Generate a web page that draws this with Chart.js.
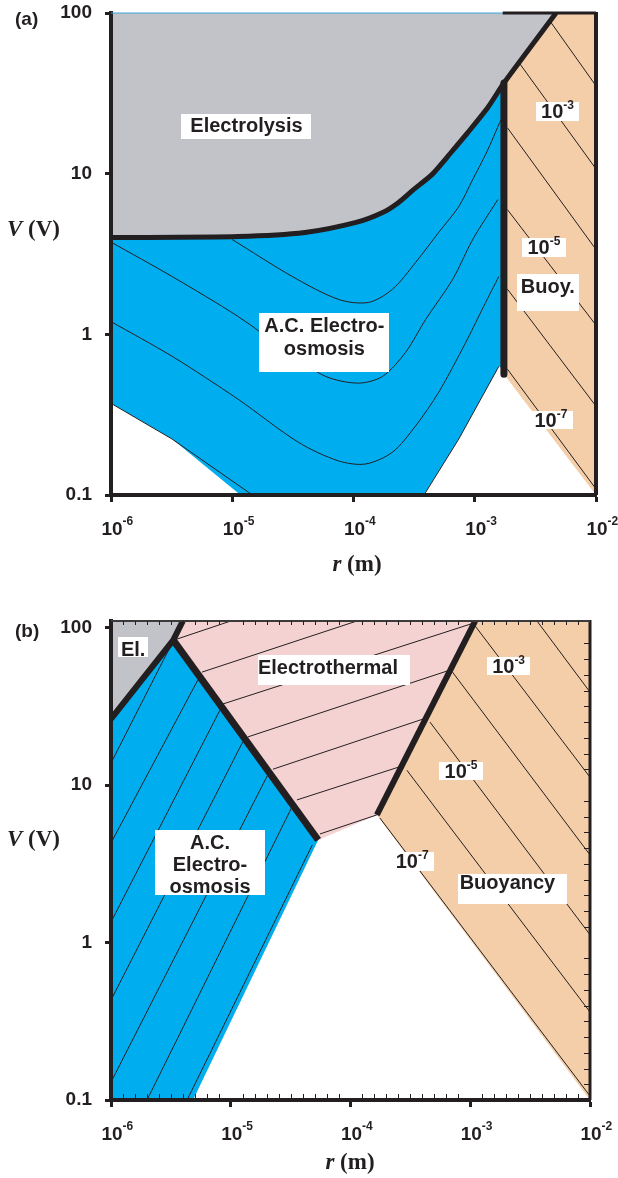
<!DOCTYPE html>
<html lang="en">
  <head>
    <meta charset="UTF-8" />
    <title>Regime maps, V against r</title>
    <style>
      body { margin: 0; background: #fff; }
      .panel { position: absolute; left: 0; width: 618px; height: 589px; }
      #panelA { top: 0; }
      #panelB { top: 589px; }
    </style>
  </head>
  <body>
    <div class="panel" id="panelA"><canvas id="chartA" width="618" height="589"></canvas></div>
    <div class="panel" id="panelB"><canvas id="chartB" width="618" height="589"></canvas></div>
  </body>
  <script src="https://cdn.jsdelivr.net/npm/chart.js"></script>
  <script>
    var ink = "#231f20";
    var gray = "#c1c3c9";
    var blue = "#00aeef";
    var peach = "#f4cea8";
    var pink = "#f5d2d2";
    var sans = "'Liberation Sans', Arial, Helvetica, sans-serif";
    var serif = "'Liberation Serif', 'Times New Roman', serif";

    Chart.defaults.font.family = sans;
    Chart.defaults.color = ink;

    // axes
    var rTicks = [1e-6, 1e-5, 1e-4, 1e-3, 1e-2];
    var rTickExp = ["-6", "-5", "-4", "-3", "-2"];
    var vTicks = [0.1, 1, 10, 100];
    var vTickLabels = ["0.1", "1", "10", "100"];

    // ---- panel (a) ----
    // electrolysis boundary
    var aElecR = [1e-6, 1.12e-5, 3.98e-5, 1.05e-4, 1.74e-4, 2.34e-4, 3.09e-4, 3.98e-4, 4.57e-4, 6.3e-4, 8.75e-4, 1.29e-3, 1.74e-3, 4.68e-3];
    var aElecV = [4.0, 4.06, 4.3, 4.97, 5.73, 6.6, 7.9, 9.2, 10.1, 13.4, 18.0, 26, 36.7, 100];
    // vertical wall between electro-osmosis and buoyancy
    var aWallR = [1.74e-3, 1.74e-3];
    var aWallV = [36.7, 0.565];
    // lower edge of the A.C. electro-osmosis region (continues the electrolysis line)
    var aAcEdgeR = [1.74e-3, 1.58e-3, 7.38e-4, 3.8e-4, 1.17e-5, 3.19e-6, 1e-6];
    var aAcEdgeV = [0.6, 0.632, 0.223, 0.1, 0.1, 0.223, 0.372];
    // buoyancy region
    var aBuoyR = [4.68e-3, 1e-2, 1e-2, 1.74e-3, 1.74e-3];
    var aBuoyV = [100, 100, 0.1, 0.565, 36.7];
    // velocity contours in the electro-osmosis region
    var aIso1R = [1.0e-5, 3.13e-5, 7.52e-5, 1.33e-4, 2.1e-4, 3.25e-4, 5.04e-4, 7.38e-4, 9.61e-4, 1.26e-3, 1.64e-3];
    var aIso1V = [3.89, 2.29, 1.65, 1.58, 1.91, 2.8, 4.31, 6.24, 9.18, 13.7, 21.6];
    var aIso2R = [1e-6, 3.19e-6, 1.12e-5, 2.9e-5, 5.87e-5, 1.1e-4, 1.74e-4, 2.69e-4, 3.94e-4, 6.58e-4, 9.61e-4, 1.55e-3];
    var aIso2V = [3.75, 2.29, 1.29, 0.773, 0.548, 0.497, 0.548, 0.773, 1.24, 2.2, 3.89, 6.9];
    var aIso3R = [1e-6, 3.19e-6, 1.12e-5, 3.51e-5, 7.52e-5, 1.26e-4, 2.1e-4, 3.25e-4, 5.04e-4, 8.43e-4, 1.23e-3, 1.58e-3];
    var aIso3V = [1.2, 0.73, 0.394, 0.213, 0.163, 0.156, 0.185, 0.269, 0.436, 0.891, 1.58, 2.29];
    var aIso4LeftR = [1e-6, 3.19e-6, 1.36e-5, 1.47e-5];
    var aIso4LeftV = [0.372, 0.223, 0.104, 0.1];
    var aIso4RightR = [3.8e-4, 3.94e-4, 7.38e-4, 1.58e-3];
    var aIso4RightV = [0.1, 0.104, 0.223, 0.632];
    // buoyancy contours: start point, end at r = 1e-2
    var aBuoyIsoR0 = [4.17e-3, 2.29e-3, 1.86e-3, 1.86e-3, 1.86e-3, 1.86e-3];
    var aBuoyIsoV0 = [89.1, 49.7, 19.3, 5.97, 1.91, 0.607];
    var aBuoyIsoV1 = [35.2, 10.7, 3.37, 1.14, 0.357, 0.109];

    // ---- panel (b) ----
    var bElecR = [1e-6, 3.31e-6, 3.98e-6];
    var bElecV = [26.3, 83.2, 110];
    var bAcEtR = [3.31e-6, 5.37e-5];
    var bAcEtV = [83.2, 4.48];
    var bEtBuoyR = [1.66e-4, 1.1e-3];
    var bEtBuoyV = [6.46, 110];
    var bAcR = [1e-6, 3.31e-6, 5.37e-5, 4.84e-6, 1e-6];
    var bAcV = [26.3, 83.2, 4.48, 0.1, 0.1];
    var bEtR = [3.31e-6, 3.98e-6, 1.1e-3, 1.66e-4, 5.37e-5];
    var bEtV = [83.2, 110, 110, 6.46, 4.48];
    var bBuoyR = [1.1e-3, 1e-2, 1e-2, 1.66e-4];
    var bBuoyV = [110, 110, 0.1, 6.46];
    // contours, start and end points
    var bAcIsoR0 = [1e-6, 1e-6, 1e-6, 1e-6, 1e-6, 2.0e-6, 4.32e-6];
    var bAcIsoV0 = [13.8, 4.29, 1.35, 0.431, 0.13, 0.1, 0.1];
    var bAcIsoR1 = [3.24e-6, 5.53e-6, 8.13e-6, 1.26e-5, 2.05e-5, 3.24e-5, 4.79e-5];
    var bAcIsoV1 = [79.8, 49.2, 29.9, 18.8, 11.7, 7.24, 4.16];
    var bEtIsoR0 = [3.56e-6, 5.75e-6, 8.61e-6, 1.39e-5, 2.25e-5, 3.57e-5, 5.56e-5];
    var bEtIsoV0 = [84.5, 52.1, 32.7, 20.2, 12.6, 8.04, 4.89];
    var bEtIsoR1 = [1.0e-5, 1.13e-4, 1.12e-3, 6.78e-4, 4.27e-4, 2.69e-4, 1.66e-4];
    var bEtIsoV1 = [110, 110, 108, 53.7, 26.6, 13.2, 6.46];
    var bBuoyIsoR0 = [3.61e-3, 1.07e-3, 6.9e-4, 4.61e-4, 2.96e-4, 1.76e-4];
    var bBuoyIsoV0 = [110, 105, 53.7, 25.1, 12.4, 6.17];
    var bBuoyIsoV1 = [38.9, 11.2, 3.6, 1.12, 0.362, 0.106];

    function pts(rs, vs) {
      return rs.map(function (r, i) { return { x: r, y: vs[i] }; });
    }

    function line(data, width, tension) {
      return {
        data: data,
        showLine: true,
        borderColor: ink,
        borderWidth: width,
        pointRadius: 0,
        tension: tension || 0,
        fill: false,
        borderJoinStyle: "round",
      };
    }

    function segments(r0, v0, r1, v1) {
      return r0.map(function (r, i) {
        var rEnd = Array.isArray(r1) ? r1[i] : r1;
        return line([{ x: r, y: v0[i] }, { x: rEnd, y: v1[i] }], 1);
      });
    }

    function axes(yMax, xHeight) {
      var tickStyle = { drawOnChartArea: false, tickLength: 6, tickWidth: 3, tickColor: ink, z: 1 };
      var frame = { color: ink, width: 4, z: 1 };
      return {
        x: {
          type: "logarithmic",
          min: 1e-6,
          max: 1e-2,
          afterBuildTicks: function (s) { s.ticks = rTicks.map(function (v) { return { value: v }; }); },
          afterFit: function (s) {
            s.height = xHeight;
            s.paddingLeft = 0;
            s.paddingRight = 0;
          },
          ticks: { display: false },
          grid: Object.assign({}, tickStyle, { tickLength: 7 }),
          border: frame,
        },
        y: {
          type: "logarithmic",
          min: 0.1,
          max: yMax,
          afterBuildTicks: function (s) { s.ticks = vTicks.map(function (v) { return { value: v }; }); },
          afterFit: function (s) {
            s.width = 111;
            s.paddingTop = 0;
            s.paddingBottom = 0;
          },
          ticks: {
            autoSkip: false,
            padding: 13,
            font: { size: 19, weight: "bold" },
            callback: function (v, i) { return vTickLabels[i]; },
          },
          grid: tickStyle,
          border: frame,
        },
      };
    }

    function twoFont(ctx, a, b, fontA, fontB, x, y, center) {
      ctx.font = fontA;
      var w1 = ctx.measureText(a).width;
      ctx.font = fontB;
      var w2 = ctx.measureText(b).width;
      var x0 = center ? x - (w1 + w2) / 2 : x;
      ctx.font = fontA;
      ctx.fillText(a, x0, y);
      ctx.font = fontB;
      ctx.fillText(b, x0 + w1, y);
    }

    function panelPlugin(cfg) {
      return {
        id: "regimes",
        beforeDatasetsDraw: function (chart) {
          var ctx = chart.ctx, a = chart.chartArea, sx = chart.scales.x, sy = chart.scales.y;
          ctx.save();
          ctx.beginPath();
          ctx.rect(a.left, a.top, a.right - a.left, a.bottom - a.top);
          ctx.clip();
          cfg.regions.forEach(function (reg) {
            ctx.beginPath();
            reg.pts.forEach(function (p, i) {
              var px = sx.getPixelForValue(p.x), py = sy.getPixelForValue(p.y);
              if (i === 0) ctx.moveTo(px, py);
              else ctx.lineTo(px, py);
            });
            ctx.closePath();
            ctx.fillStyle = reg.color;
            ctx.fill();
          });
          ctx.restore();
        },
        afterDatasetsDraw: function (chart) {
          var ctx = chart.ctx, sx = chart.scales.x, sy = chart.scales.y;
          ctx.save();
          cfg.labels.forEach(function (lab) {
            var cx = sx.getPixelForValue(lab.r), cy = sy.getPixelForValue(lab.v);
            ctx.fillStyle = "#fff";
            ctx.fillRect(Math.round(cx - lab.w / 2), Math.round(cy - lab.h / 2), lab.w, lab.h);
            ctx.fillStyle = ink;
            var tx = cx + (lab.dx || 0), ty = cy + (lab.dy || 0);
            if (lab.exp) {
              ctx.textAlign = "left";
              ctx.textBaseline = "alphabetic";
              ctx.font = "bold 20px " + sans;
              var w1 = ctx.measureText("10").width;
              ctx.font = "bold 12px " + sans;
              var w2 = ctx.measureText(lab.exp).width;
              var x0 = tx - (w1 + w2) / 2;
              ctx.font = "bold 20px " + sans;
              ctx.fillText("10", x0, ty + 7);
              ctx.font = "bold 12px " + sans;
              ctx.fillText(lab.exp, x0 + w1, ty - 2);
            } else {
              ctx.font = "bold 20px " + sans;
              ctx.textAlign = "center";
              ctx.textBaseline = "middle";
              var n = lab.lines.length;
              lab.lines.forEach(function (s, i) {
                ctx.fillText(s, tx, ty + (i - (n - 1) / 2) * (lab.lead || 23));
              });
            }
          });
          ctx.restore();
        },
        afterDraw: function (chart) {
          var ctx = chart.ctx, a = chart.chartArea, sx = chart.scales.x, sy = chart.scales.y;
          ctx.save();
          // right and top edges of the frame
          ctx.strokeStyle = ink;
          ctx.lineWidth = cfg.rightWidth;
          ctx.beginPath();
          ctx.moveTo(a.right, a.top - 1);
          ctx.lineTo(a.right, a.bottom);
          ctx.stroke();
          cfg.top.forEach(function (seg) {
            ctx.strokeStyle = seg.color;
            ctx.lineWidth = seg.width;
            ctx.beginPath();
            ctx.moveTo(sx.getPixelForValue(seg.r0), a.top);
            ctx.lineTo(sx.getPixelForValue(seg.r1), a.top);
            ctx.stroke();
          });
          // minor ticks every tenth of a decade
          if (cfg.minor) {
            ctx.strokeStyle = ink;
            ctx.lineWidth = 1;
            ctx.beginPath();
            for (var k = -59; k < -20; k++) {
              if (k % 10 === 0) continue;
              var px = Math.round(sx.getPixelForValue(Math.pow(10, k / 10))) + 0.5;
              ctx.moveTo(px, a.bottom - 2);
              ctx.lineTo(px, a.bottom - 6);
              ctx.moveTo(px, a.top);
              ctx.lineTo(px, a.top + 4);
            }
            var kMax = Math.floor(Math.log10(sy.max) * 10);
            for (var j = -9; j <= kMax; j++) {
              if (j % 10 === 0) continue;
              var py = Math.round(sy.getPixelForValue(Math.pow(10, j / 10))) + 0.5;
              ctx.moveTo(a.right - 1, py);
              ctx.lineTo(a.right - 6, py);
            }
            ctx.stroke();
          }
          // r tick labels with exponents
          ctx.fillStyle = ink;
          ctx.textBaseline = "alphabetic";
          ctx.textAlign = "left";
          rTicks.forEach(function (v, i) {
            var px = sx.getPixelForValue(v);
            ctx.font = "bold 19px " + sans;
            var w = ctx.measureText("10").width;
            ctx.fillText("10", px - w / 2 + 1, a.bottom + 40);
            ctx.font = "bold 12px " + sans;
            ctx.fillText(rTickExp[i], px + w / 2 + 1, a.bottom + 30);
          });
          // axis titles
          ctx.textBaseline = "middle";
          twoFont(ctx, "V", " (V)", "italic bold 23px " + serif, "bold 23px " + serif, 7, cfg.vTitleY, false);
          twoFont(ctx, "r", " (m)", "italic bold 23px " + serif, "bold 23px " + serif, cfg.rTitleX, cfg.rTitleY, true);
          // panel letter
          ctx.font = "bold 19px " + sans;
          ctx.fillText(cfg.letter, 15, cfg.letterY);
          ctx.restore();
        },
      };
    }

    // ---- chart (a) ----
    var aAcFill = pts(aElecR, aElecV).filter(function (p) { return p.x <= aWallR[0]; }).concat(pts(aAcEdgeR, aAcEdgeV));
    var aDatasets = [
      line(pts(aWallR, aWallV), 7),
      line(pts(aElecR, aElecV), 5, 0.25),
      line(pts(aIso1R, aIso1V), 1, 0.3),
      line(pts(aIso2R, aIso2V), 1, 0.3),
      line(pts(aIso3R, aIso3V), 1, 0.3),
      line(pts(aIso4LeftR, aIso4LeftV), 1),
      line(pts(aIso4RightR, aIso4RightV), 1),
    ].concat(segments(aBuoyIsoR0, aBuoyIsoV0, 1e-2, aBuoyIsoV1));

    new Chart(document.getElementById("chartA"), {
      type: "scatter",
      data: { datasets: aDatasets },
      options: {
        responsive: false,
        animation: false,
        events: [],
        layout: { padding: { left: 0, top: 13, right: 22, bottom: 0 } },
        scales: axes(100, 94),
        plugins: { legend: { display: false }, tooltip: { enabled: false } },
      },
      plugins: [
        panelPlugin({
          letter: "(a)",
          letterY: 20,
          vTitleY: 230,
          rTitleX: 357,
          rTitleY: 565,
          rightWidth: 4,
          minor: false,
          top: [
            { r0: 1e-6, r1: 1.7e-3, color: "#3aa6dc", width: 1 },
            { r0: 1.7e-3, r1: 1e-2, color: ink, width: 3 },
          ],
          regions: [
            { color: gray, pts: pts(aElecR, aElecV).concat([{ x: 1e-6, y: 100 }]) },
            { color: blue, pts: aAcFill },
            { color: peach, pts: pts(aBuoyR, aBuoyV) },
          ],
          labels: [
            { r: 1.31e-5, v: 19.7, w: 130, h: 25, lines: ["Electrolysis"] },
            { r: 5.75e-5, v: 0.885, w: 130, h: 59, dy: -5, lines: ["A.C. Electro-", "osmosis"] },
            { r: 4.01e-3, v: 1.81, w: 62, h: 37, dy: -5, lines: ["Buoy."] },
            { r: 4.81e-3, v: 24.4, w: 43, h: 19, exp: "-3" },
            { r: 3.72e-3, v: 3.49, w: 44, h: 19, exp: "-5" },
            { r: 4.25e-3, v: 0.292, w: 44, h: 18, exp: "-7" },
          ],
        }),
      ],
    });

    // ---- chart (b) ----
    var bDatasets = [
      line(pts(bElecR, bElecV), 6),
      line(pts(bAcEtR, bAcEtV), 7),
      line(pts(bEtBuoyR, bEtBuoyV), 6),
    ]
      .concat(segments(bAcIsoR0, bAcIsoV0, bAcIsoR1, bAcIsoV1))
      .concat(segments(bEtIsoR0, bEtIsoV0, bEtIsoR1, bEtIsoV1))
      .concat(segments(bBuoyIsoR0, bBuoyIsoV0, 1e-2, bBuoyIsoV1));

    new Chart(document.getElementById("chartB"), {
      type: "scatter",
      data: { datasets: bDatasets },
      options: {
        responsive: false,
        animation: false,
        events: [],
        layout: { padding: { left: 0, top: 32, right: 28, bottom: 0 } },
        scales: axes(110, 78),
        plugins: { legend: { display: false }, tooltip: { enabled: false } },
      },
      plugins: [
        panelPlugin({
          letter: "(b)",
          letterY: 43,
          vTitleY: 251,
          rTitleX: 350,
          rTitleY: 574,
          rightWidth: 3,
          minor: true,
          top: [{ r0: 1e-6, r1: 1e-2, color: "#3d3a3b", width: 2 }],
          regions: [
            { color: gray, pts: pts(bElecR, bElecV).concat([{ x: 1e-6, y: 110 }]) },
            { color: blue, pts: pts(bAcR, bAcV) },
            { color: pink, pts: pts(bEtR, bEtV) },
            { color: peach, pts: pts(bBuoyR, bBuoyV) },
          ],
          labels: [
            { r: 1.53e-6, v: 75.2, w: 30, h: 20, dy: 3, lines: ["El."] },
            { r: 7.28e-5, v: 53.7, w: 152, h: 30, dx: -6, dy: -2, lines: ["Electrothermal"] },
            { r: 6.71e-6, v: 3.22, w: 110, h: 65, dy: 3, lead: 22, lines: ["A.C.", "Electro-", "osmosis"] },
            { r: 2.09e-3, v: 57.0, w: 43, h: 18, exp: "-3" },
            { r: 8.38e-4, v: 12.3, w: 44, h: 18, exp: "-5" },
            { r: 3.27e-4, v: 3.27, w: 44, h: 19, exp: "-7" },
            { r: 2.25e-3, v: 2.19, w: 109, h: 30, dx: -5, dy: -5, lines: ["Buoyancy"] },
          ],
        }),
      ],
    });
  </script>
</html>
